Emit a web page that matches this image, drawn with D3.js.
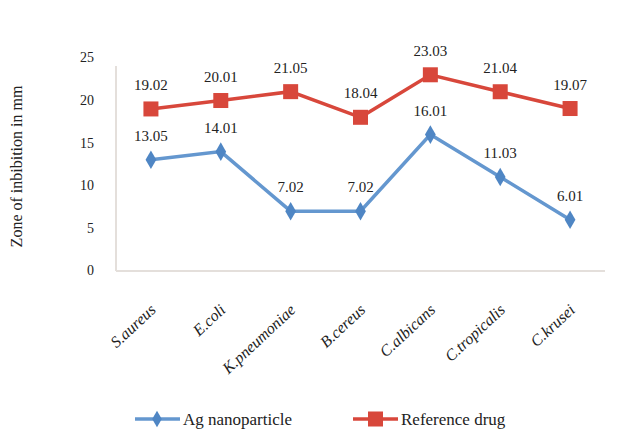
<!DOCTYPE html>
<html>
<head>
<meta charset="utf-8">
<script src="https://cdn.jsdelivr.net/npm/d3@7"></script>
</head>
<body style="margin:0;background:#fff">
<svg id="chart" width="643" height="430"></svg>
<script>
var categories = ["S.aureus", "E.coli", "K.pneumoniae", "B.cereus", "C.albicans", "C.tropicalis", "C.krusei"];
var ag_values = [13.05, 14.01, 7.02, 7.02, 16.01, 11.03, 6.01];
var ref_values = [19.02, 20.01, 21.05, 18.04, 23.03, 21.04, 19.07];
var y_ticks = [0, 5, 10, 15, 20, 25];

var svg = d3.select("#chart");
var margins = {left: 116, right: 38, top: 58, bottom: 159};
var width = 643, height = 430;

var x = d3.scaleBand().domain(categories).range([margins.left, width - margins.right]);
var y = d3.scaleLinear().domain([0, 25]).range([height - margins.bottom, margins.top]);

var blue = "#6497cf", blue_dark = "#4f86c4", red = "#d8473b";

// axis lines
svg.append("line")
  .attr("x1", margins.left).attr("x2", margins.left)
  .attr("y1", y(25) + 8).attr("y2", y(0))
  .attr("stroke", "#e4dfdb").attr("stroke-width", 2);
svg.append("line")
  .attr("x1", margins.left).attr("x2", width - margins.right)
  .attr("y1", y(0)).attr("y2", y(0))
  .attr("stroke", "#e4dfdb").attr("stroke-width", 2);

// y tick labels (drawn by hand with the scale, no axis font override)
svg.selectAll(".y_tick").data(y_ticks).join("text")
  .attr("class", "y_tick")
  .attr("x", margins.left - 22)
  .attr("y", function(d) { return y(d); })
  .attr("dy", "0.32em")
  .attr("text-anchor", "end")
  .attr("font-family", "Liberation Serif")
  .attr("font-size", 14)
  .attr("fill", "#222")
  .text(function(d) { return d; });

// y title
svg.append("text")
  .attr("transform", "translate(22," + (y(12.5) + 2) + ") rotate(-90)")
  .attr("text-anchor", "middle")
  .attr("font-family", "Liberation Serif")
  .attr("font-size", 16)
  .attr("fill", "#222")
  .text("Zone of inbibition in mm");

// x labels
svg.selectAll(".x_label").data(categories).join("text")
  .attr("class", "x_label")
  .attr("transform", function(d) { return "translate(" + (x(d) + x.bandwidth() / 2 + 2) + "," + (y(0) + 36) + ") rotate(-43)"; })
  .attr("text-anchor", "end")
  .attr("dy", "0.35em")
  .attr("font-family", "Liberation Serif")
  .attr("font-size", 16)
  .attr("font-style", "italic")
  .attr("fill", "#222")
  .text(function(d) { return d; });

var line = d3.line().x(function(d, i) { return x(categories[i]) + x.bandwidth() / 2; }).y(function(d) { return y(d); });

function draw_series(values, colour, marker_colour, marker, cls) {
  svg.append("path").datum(values)
    .attr("d", line)
    .attr("fill", "none")
    .attr("stroke", colour)
    .attr("stroke-width", 3.5);

  var g = svg.selectAll("." + cls).data(values).join("g")
    .attr("class", cls)
    .attr("transform", function(d, i) { return "translate(" + (x(categories[i]) + x.bandwidth() / 2) + "," + y(d) + ")"; });

  if (marker === "square") {
    g.append("rect").attr("x", -7.5).attr("y", -7.5).attr("width", 15).attr("height", 15).attr("fill", marker_colour);
  } else {
    g.append("path").attr("d", d3.symbol().type(d3.symbolDiamond).size(100)).attr("fill", marker_colour);
  }

  g.append("text")
    .attr("y", -19)
    .attr("text-anchor", "middle")
    .attr("font-family", "Liberation Serif")
    .attr("font-size", 15)
    .attr("fill", "#222")
    .text(function(d) { return d.toFixed(2); });
}

draw_series(ag_values, blue, blue_dark, "diamond", "ag_point");
draw_series(ref_values, red, red, "square", "ref_point");

// legend
var legend = [
  {name: "Ag nanoparticle", colour: blue, marker_colour: blue_dark, marker: "diamond", x: 135},
  {name: "Reference drug", colour: red, marker_colour: red, marker: "square", x: 353}
];
var lg = svg.selectAll(".legend").data(legend).join("g")
  .attr("class", "legend")
  .attr("transform", function(d) { return "translate(" + d.x + ",419)"; });
lg.append("line").attr("x1", 0).attr("x2", 45).attr("stroke", function(d) { return d.colour; }).attr("stroke-width", 3.5);
lg.each(function(d) {
  var s = d3.select(this);
  if (d.marker === "square") {
    s.append("rect").attr("x", 15).attr("y", -7.5).attr("width", 15).attr("height", 15).attr("fill", d.marker_colour);
  } else {
    s.append("path").attr("transform", "translate(22,0)").attr("d", d3.symbol().type(d3.symbolDiamond).size(80)).attr("fill", d.marker_colour);
  }
});
lg.append("text")
  .attr("x", 48)
  .attr("dy", "0.35em")
  .attr("font-family", "Liberation Serif")
  .attr("font-size", 17)
  .attr("fill", "#222")
  .text(function(d) { return d.name; });
</script>
</body>
</html>
